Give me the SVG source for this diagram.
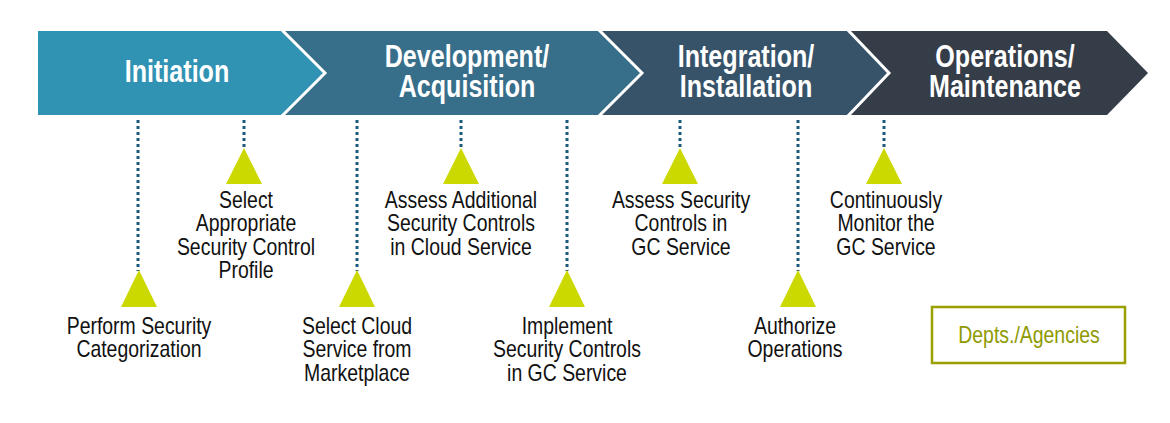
<svg xmlns="http://www.w3.org/2000/svg" width="1170" height="423" viewBox="0 0 1170 423">
<style>
.title{font-family:"Liberation Sans",Arial,sans-serif;font-weight:bold;font-size:31px;fill:#ffffff;text-anchor:middle}
.lbl{font-family:"Liberation Sans",Arial,sans-serif;font-size:23px;fill:#111111;text-anchor:middle}
.dot{stroke:#1b5a7b;stroke-width:3;stroke-dasharray:3 3;fill:none}
.tri{fill:#cbd900}
.sep{fill:none;stroke:#ffffff;stroke-width:3}
</style>
<rect width="1170" height="423" fill="#ffffff"/>
<g id="phase-operations">
<polygon points="847,31 1107,31 1148,73 1107,115 847,115 889,73" fill="#343d48"/>
<text class="title" transform="translate(1005,67) scale(0.81,1)"><tspan x="0" y="0">Operations/</tspan><tspan x="0" y="30">Maintenance</tspan></text>
</g>
<g id="phase-integration">
<polygon points="598,31 847,31 889,73 847,115 598,115 642,73" fill="#37536a"/>
<polyline class="sep" points="847,29 889,73 847,117"/>
<text class="title" transform="translate(746,67) scale(0.81,1)"><tspan x="0" y="0">Integration/</tspan><tspan x="0" y="30">Installation</tspan></text>
</g>
<g id="phase-development">
<polygon points="281,31 598,31 642,73 598,115 281,115 325,73" fill="#376e8a"/>
<polyline class="sep" points="598,29 642,73 598,117"/>
<text class="title" transform="translate(467,67) scale(0.81,1)"><tspan x="0" y="0">Development/</tspan><tspan x="0" y="30">Acquisition</tspan></text>
</g>
<g id="phase-initiation">
<polygon points="38,31 281,31 325,73 281,115 38,115" fill="#3193b4"/>
<polyline class="sep" points="281,29 325,73 281,117"/>
<text class="title" transform="translate(177,82) scale(0.81,1)">Initiation</text>
</g>
<g id="connectors">
<line class="dot" x1="138" y1="120" x2="138" y2="271"/>
<line class="dot" x1="244" y1="120" x2="244" y2="149"/>
<line class="dot" x1="357" y1="120" x2="357" y2="271"/>
<line class="dot" x1="461" y1="120" x2="461" y2="149"/>
<line class="dot" x1="567" y1="120" x2="567" y2="271"/>
<line class="dot" x1="680" y1="120" x2="680" y2="149"/>
<line class="dot" x1="798" y1="120" x2="798" y2="271"/>
<line class="dot" x1="884" y1="120" x2="884" y2="149"/>
</g>
<g id="step-categorization">
<polygon class="tri" points="139,270 157,307 121,307"/>
<text class="lbl" transform="translate(139,334) scale(0.845,1)"><tspan x="0" y="0">Perform Security</tspan><tspan x="0" y="23.5">Categorization</tspan></text>
</g>
<g id="step-profile">
<polygon class="tri" points="244,148 262,184 226,184"/>
<text class="lbl" transform="translate(246,208) scale(0.845,1)"><tspan x="0" y="0">Select</tspan><tspan x="0" y="23.5">Appropriate</tspan><tspan x="0" y="47">Security Control</tspan><tspan x="0" y="70.5">Profile</tspan></text>
</g>
<g id="step-select-cloud">
<polygon class="tri" points="357,270 375,307 339,307"/>
<text class="lbl" transform="translate(357,334) scale(0.845,1)"><tspan x="0" y="0">Select Cloud</tspan><tspan x="0" y="23.5">Service from</tspan><tspan x="0" y="47">Marketplace</tspan></text>
</g>
<g id="step-assess-additional">
<polygon class="tri" points="461,148 479,184 443,184"/>
<text class="lbl" transform="translate(461,208) scale(0.845,1)"><tspan x="0" y="0">Assess Additional</tspan><tspan x="0" y="23.5">Security Controls</tspan><tspan x="0" y="47">in Cloud Service</tspan></text>
</g>
<g id="step-implement">
<polygon class="tri" points="567,270 585,307 549,307"/>
<text class="lbl" transform="translate(567,334) scale(0.845,1)"><tspan x="0" y="0">Implement</tspan><tspan x="0" y="23.5">Security Controls</tspan><tspan x="0" y="47">in GC Service</tspan></text>
</g>
<g id="step-assess-security">
<polygon class="tri" points="680,148 698,184 662,184"/>
<text class="lbl" transform="translate(681,208) scale(0.845,1)"><tspan x="0" y="0">Assess Security</tspan><tspan x="0" y="23.5">Controls in</tspan><tspan x="0" y="47">GC Service</tspan></text>
</g>
<g id="step-authorize">
<polygon class="tri" points="798,270 816,307 780,307"/>
<text class="lbl" transform="translate(795,334) scale(0.845,1)"><tspan x="0" y="0">Authorize</tspan><tspan x="0" y="23.5">Operations</tspan></text>
</g>
<g id="step-monitor">
<polygon class="tri" points="884,148 902,184 866,184"/>
<text class="lbl" transform="translate(886,208) scale(0.845,1)"><tspan x="0" y="0">Continuously</tspan><tspan x="0" y="23.5">Monitor the</tspan><tspan x="0" y="47">GC Service</tspan></text>
</g>
<g id="legend">
<rect x="932" y="307" width="193" height="56" fill="#ffffff" stroke="#99a000" stroke-width="2.5"/>
<text transform="translate(1029,343) scale(0.845,1)" font-family="Liberation Sans, Arial, sans-serif" font-size="23" fill="#8e9a00" text-anchor="middle">Depts./Agencies</text>
</g>
</svg>
